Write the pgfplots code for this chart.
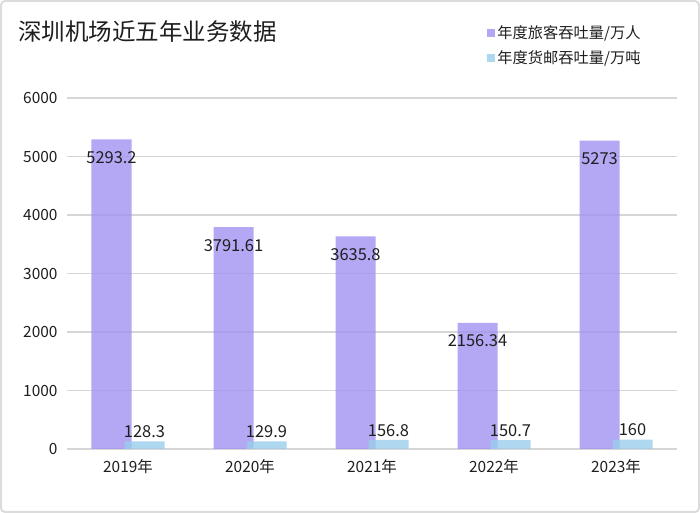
\documentclass[border=0pt]{standalone}
\usepackage{pgfplots}
\pgfplotsset{compat=1.18}
\usepackage{fontspec}
\setmainfont{Noto Sans CJK SC}
\definecolor{paxfill}{RGB}{161,146,242}
\definecolor{cargofill}{RGB}{154,206,235}
\definecolor{gridgray}{RGB}{214,214,214}
\definecolor{txt}{RGB}{30,30,30}
\definecolor{framegray}{RGB}{220,220,220}

\begin{document}
\begin{tikzpicture}
\useasboundingbox (0,0) rectangle (700bp,513bp);
\draw[framegray, line width=2bp, rounded corners=4bp] (1bp,1bp) rectangle (699bp,512bp);
\node[anchor=west, text=txt, font=\fontsize{23.6}{27}\selectfont, inner sep=0pt] at (18bp,481bp) {深圳机场近五年业务数据};
\begin{axis}[
    at={(67bp,64bp)}, anchor=south west,
    scale only axis,
    width=610bp, height=351bp,
    xmin=-0.5, xmax=4.5,
    ymin=0, ymax=6000,
    xtick={0,1,2,3,4},
    xticklabels={2019年,2020年,2021年,2022年,2023年},
    ytick={0,1000,...,6000},
    yticklabels={0,1000,2000,3000,4000,5000,6000},
    ymajorgrids,
    grid style={gridgray, line width=1.2bp},
    major tick length=0pt,
    axis line style={draw=none},
    ybar, bar width=40bp,
    /pgf/number format/assume math mode=true,
    tick label style={text=txt, font=\fontsize{15.5}{17}\selectfont},
    yticklabel style={xshift=-6bp},
    xticklabel style={yshift=-7bp},
    legend style={at={(0.684,1.218)}, anchor=north west, draw=none, fill=none,
        font=\fontsize{15.3}{17}\selectfont, text=txt, row sep=7bp,
        /tikz/every even column/.append style={column sep=0bp}},
    legend cell align=left,
    clip=false,
]
\addplot[fill=paxfill, fill opacity=0.8, draw=none, bar shift=-16.5bp,
    nodes near coords, point meta=explicit symbolic,
    every node near coord/.append style={text=txt, text opacity=1, fill opacity=1, anchor=center, yshift=-18bp, font=\fontsize{16.5}{18}\selectfont},
    legend image code/.code={\fill[paxfill, fill opacity=0.8] (0bp,-4bp) rectangle (8bp,4bp);}]
    coordinates {
    (0,5293.2) [5293.2]
    (1,3791.61) [3791.61]
    (2,3635.8) [3635.8]
    (3,2156.34) [2156.34]
    (4,5273) [5273]
};
\addlegendentry{年度旅客吞吐量/万人}
\addplot[fill=cargofill, fill opacity=0.8, draw=none, bar shift=16.5bp,
    nodes near coords, point meta=explicit symbolic,
    every node near coord/.append style={text=txt, text opacity=1, fill opacity=1, anchor=south, yshift=0bp, font=\fontsize{16.5}{18}\selectfont},
    legend image code/.code={\fill[cargofill, fill opacity=0.8] (0bp,-4bp) rectangle (8bp,4bp);}]
    coordinates {
    (0,128.3) [128.3]
    (1,129.9) [129.9]
    (2,156.8) [156.8]
    (3,150.7) [150.7]
    (4,160) [160]
};
\addlegendentry{年度货邮吞吐量/万吨}
\end{axis}
\end{tikzpicture}
\end{document}
